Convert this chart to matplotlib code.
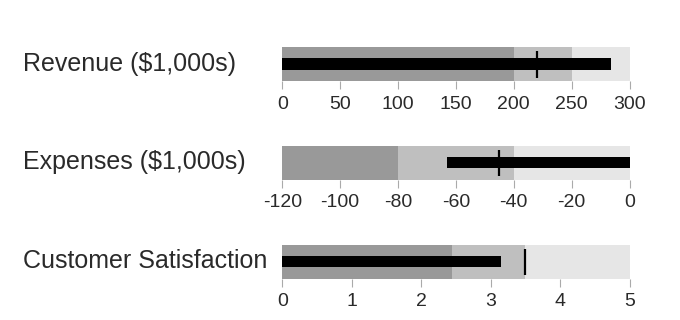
import matplotlib
matplotlib.use("Agg")
import matplotlib.pyplot as plt

plt.rcParams['font.family'] = ['Liberation Sans', 'DejaVu Sans']

titles = ["Revenue ($1,000s)", "Expenses ($1,000s)", "Customer Satisfaction"]
ranges = [[200, 250, 300], [-80, -40, 0], [2.45, 3.5, 5]]
range_starts = [0, -120, 0]
measures = [284, -63, 3.15]
markers = [220, -45, 3.5]
ticks = [[0, 50, 100, 150, 200, 250, 300],
         [-120, -100, -80, -60, -40, -20, 0],
         [0, 1, 2, 3, 4, 5]]
tick_labels = [["0", "50", "100", "150", "200", "250", "300"],
               ["-120", "-100", "-80", "-60", "-40", "-20", "0"],
               ["0", "1", "2", "3", "4", "5"]]

W, H = 680, 320
fig = plt.figure(figsize=(W / 100, H / 100), dpi=100)

band_colors = ["#999999", "#bfbfbf", "#e6e6e6"]
tops = [47, 145.5, 244.5]
band_h = 34
left, right = 282.3, 629.5

for i in range(3):
    top = tops[i]
    ax = fig.add_axes([left / W, 1 - (top + band_h) / H, (right - left) / W, band_h / H])
    lo = range_starts[i]
    hi = ranges[i][-1]
    prev = lo
    for r, c in zip(ranges[i], band_colors):
        ax.barh(0.5, r - prev, left=prev, height=1.0, color=c, edgecolor='none', zorder=1)
        prev = r
    if lo >= 0:
        ax.barh(0.5, measures[i] - lo, left=lo, height=0.34, color="black", edgecolor='none', zorder=2)
    else:
        ax.barh(0.5, 0 - measures[i], left=measures[i], height=0.34, color="black", edgecolor='none', zorder=2)
    ax.plot([markers[i], markers[i]], [0.1, 0.88], color="black", lw=1.6, zorder=3,
            solid_capstyle='butt')
    ax.set_xlim(lo, hi)
    ax.set_ylim(0, 1)
    ax.set_yticks([])
    ax.set_xticks(ticks[i])
    ax.set_xticklabels(tick_labels[i])
    for s in ax.spines.values():
        s.set_visible(False)
    ax.tick_params(axis='x', length=6, width=0.8, color="#aaaaaa", labelsize=14,
                   labelcolor="#2a2a2a", pad=4.5)
    fig.text(23 / W, 1 - (top + band_h / 2) / H, titles[i], ha='left', va='center',
             fontsize=18, color="#2a2a2a")

fig.savefig("out.png", dpi=100)
